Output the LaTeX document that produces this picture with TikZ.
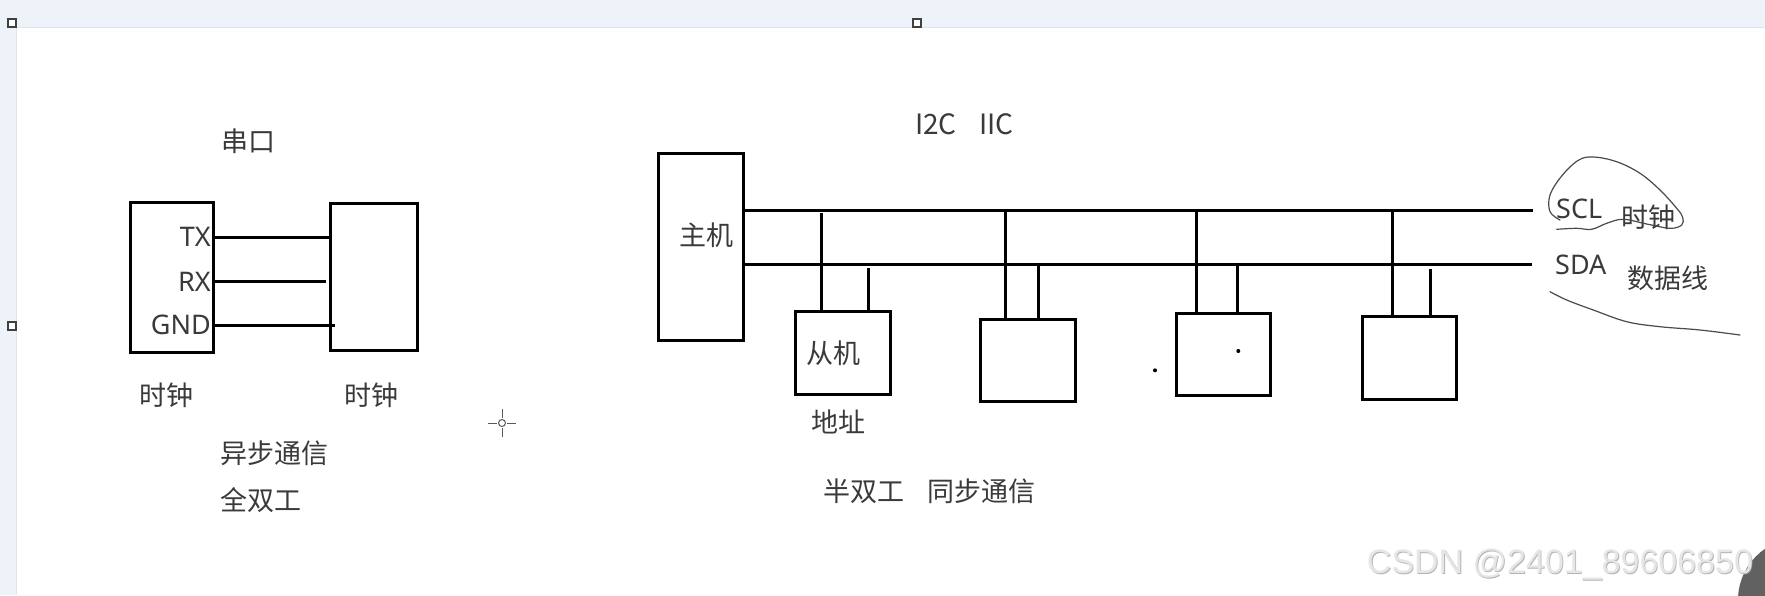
\documentclass[tikz,border=0pt]{standalone}
\usepackage{fontspec}
\setmainfont{Noto Sans}
\newfontfamily\cjk{Noto Sans CJK SC}
\newfontfamily\wmfont{Liberation Sans}
\definecolor{txt}{HTML}{3A3A3A}
\definecolor{band}{HTML}{EEF3F9}
\definecolor{bandline}{HTML}{DCE4EE}
\definecolor{scrib}{HTML}{4A4A4A}
\definecolor{wm}{HTML}{E6E6E6}
\definecolor{wmshadow}{HTML}{B4B4B4}
\begin{document}
\begin{tikzpicture}[x=1pt,y=-1pt,
  box/.style={draw=black,line width=3pt,inner sep=0pt,fill=white},
  wire/.style={draw=black,line width=3pt},
  lbl/.style={inner sep=0pt,text=txt,font=\fontsize{27}{32}\selectfont},
  clbl/.style={inner sep=0pt,text=txt,font=\cjk\fontsize{27}{32}\selectfont},
  handle/.style={draw=black!75,line width=1.6pt,fill=white,minimum size=8pt,inner sep=0pt},
  scribble/.style={draw=scrib,line width=1.2pt,line cap=round,line join=round}]
\useasboundingbox (0,0) rectangle (1765,595);
% background
\fill[white] (0,0) rectangle (1765,595);
\fill[band] (0,0) rectangle (1765,27);
\fill[band] (0,27) rectangle (16,595);
\draw[bandline,line width=1pt] (16,27.5) -- (1765,27.5);
\draw[bandline,line width=1pt] (16.5,27) -- (16.5,595);
\node[handle] (h1) at (12,23) {};
\node[handle] (h2) at (917,23) {};
\node[handle] (h3) at (12,326) {};

% ---------- serial port ----------
\node[clbl] (title1) at (248,141) {串口};
\node[box,minimum width=83pt,minimum height=150pt] (lbox) at (172.3,277.8) {};
\node[box,minimum width=87pt,minimum height=147pt] (rbox) at (374.3,276.5) {};
\coordinate (ytx) at (0,237);
\coordinate (yrx) at (0,281.7);
\coordinate (ygnd) at (0,325);
\node[lbl,anchor=east] (tx) at (211,237) {TX};
\node[lbl,anchor=east] (rx) at (211,281.7) {RX};
\node[lbl,anchor=east] (gnd) at (211,325) {GND};
\draw[wire] (lbox.east |- ytx) -- (rbox.west |- ytx);
\draw[wire] (lbox.east |- yrx) -- ([xshift=-3pt]rbox.west |- yrx);
\draw[wire] (lbox.east |- ygnd) -- ([xshift=6pt]rbox.west |- ygnd);
\node[clbl] (clk1) at (166,395) {时钟};
\node[clbl] (clk2) at (371,395) {时钟};
\node[clbl,anchor=west] (async) at (220,453) {异步通信};
\node[clbl,anchor=west] (fdx) at (220,500) {全双工};

% cursor crosshair
\coordinate (cur) at (502,423);
\draw[black!65,line width=1pt] (cur) circle (3.5pt);
\draw[black!65,line width=1pt] ([yshift=-14pt]cur) -- ([yshift=-5pt]cur)
  ([yshift=5pt]cur) -- ([yshift=14pt]cur)
  ([xshift=-14pt]cur) -- ([xshift=-5pt]cur)
  ([xshift=5pt]cur) -- ([xshift=14pt]cur);

% ---------- I2C ----------
\node[clbl,font=\cjk\fontsize{28}{32}\selectfont,anchor=west] (i2c) at (915,124.5) {I2C};
\node[clbl,font=\cjk\fontsize{28}{32}\selectfont,anchor=west] (iic) at (979,124.5) {IIC};
\node[box,minimum width=85pt,minimum height=187pt] (master) at (700.5,247.3) {};
\node[clbl] (mtxt) at (706,235) {主机};
\coordinate (sclend) at (1533,210);
\coordinate (sdaend) at (1532,264.5);
\draw[wire] (master.east |- sclend) -- (sclend);
\draw[wire] (master.east |- sdaend) -- (sdaend);

\node[box,minimum width=95pt,minimum height=83pt] (s1) at (843.3,352.5) {};
\node[box,minimum width=95pt,minimum height=82pt] (s2) at (1027.5,360) {};
\node[box,minimum width=94pt,minimum height=82pt] (s3) at (1223.7,354.2) {};
\node[box,minimum width=94pt,minimum height=83pt] (s4) at (1409.5,358) {};
\node[clbl] (s1txt) at (833.4,353) {从机};
\node[clbl] (addr) at (838,422) {地址};

\coordinate (a1) at (821.7,213);
\coordinate (b1) at (868.7,268.3);
\coordinate (a2) at (1005.7,210);
\coordinate (b2) at (1038.3,264.5);
\coordinate (a3) at (1196.7,210);
\coordinate (b3) at (1237.3,264.5);
\coordinate (a4) at (1392.7,210);
\coordinate (b4) at (1430.3,269.3);
\foreach \t/\s in {a1/s1,b1/s1,a2/s2,b2/s2,a3/s3,b3/s3,a4/s4,b4/s4}
  \draw[wire] (\t) -- (\t |- \s.north);

\fill[black] (1155,370.3) circle (2pt);
\fill[black] (1238.3,351) circle (2pt);

\node[lbl,anchor=west] (scl) at (1556,209) {SCL};
\node[lbl,anchor=west] (sda) at (1555,265) {SDA};
\node[clbl] (clk3) at (1648.5,217) {时钟};
\node[clbl] (dline) at (1667.5,278) {数据线};

\node[clbl] (hdx) at (864,491) {半双工};
\node[clbl,anchor=west] (sync) at (927,491) {同步通信};

% hand-drawn marks
\draw[scribble] plot[smooth,tension=0.6] coordinates {
  (1556.7,229.3) (1576.7,228.3) (1591.7,229.3) (1606.7,223.3) (1623.3,219.3)
  (1646.7,224) (1670,228.3) (1681.7,225) (1682.7,217.3) (1676.7,208.3)
  (1660,190) (1640,173.3) (1616.7,161.7) (1593.3,157) (1578.3,160.3)
  (1561.7,176) (1550,195) (1550,211.7) (1560,220)};
\draw[scribble] plot[smooth,tension=0.6] coordinates {
  (1550,291.7) (1566.7,300) (1593.3,310) (1626.7,321.7) (1660,326.7)
  (1700,330) (1740,335)};

% watermark and corner shape
\fill[black!62] (1800,600) circle (62pt);
\node[inner sep=0pt,text=wmshadow,font=\wmfont\fontsize{34}{40}\selectfont] (wms) at (1560.8,565.8) {CSDN @2401\_89606850};
\node[inner sep=0pt,text=wm,font=\wmfont\fontsize{34}{40}\selectfont] (wmk) at (1560,565) {CSDN @2401\_89606850};
\end{tikzpicture}
\end{document}
